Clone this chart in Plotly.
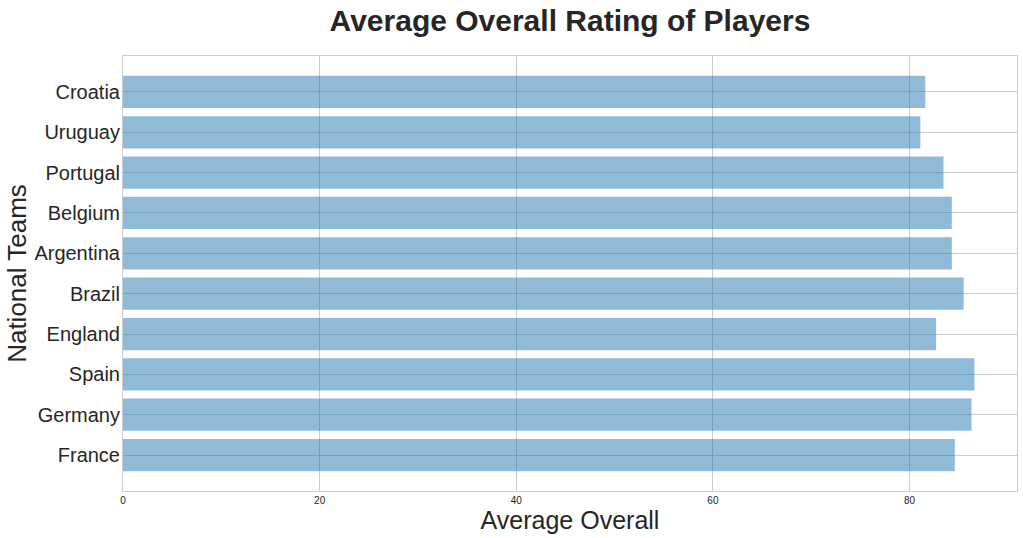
import plotly.graph_objects as go

teams = ["France", "Germany", "Spain", "England", "Brazil", "Argentina", "Belgium", "Portugal", "Uruguay", "Croatia"]
avg_overall = [84.6, 86.3, 86.6, 82.7, 85.5, 84.3, 84.3, 83.45, 81.1, 81.6]
x_ticks = [0, 20, 40, 60, 80]

fig = go.Figure(go.Bar(
    x=avg_overall, y=list(range(len(teams))), orientation="h",
    width=0.8, marker=dict(color="rgba(31,119,180,0.5)", line=dict(width=0)),
))

font_family = "Liberation Sans, Arial, sans-serif"
fig.update_layout(
    width=1023, height=538,
    margin=dict(l=123, r=6, t=56, b=47, autoexpand=False),
    plot_bgcolor="white", paper_bgcolor="white",
    font=dict(family=font_family, color="#262626"),
    title=dict(text="<b>Average Overall Rating of Players</b>", x=0.5, xref="paper", xanchor="center",
               y=0.962, yanchor="middle", font=dict(size=30, color="#262626")),
    showlegend=False,
    bargap=0.2,
)
fig.update_xaxes(
    range=[0, 90.93], tickvals=x_ticks, ticktext=[str(t) for t in x_ticks],
    tickfont=dict(size=10), showgrid=True, gridcolor="#cccccc", gridwidth=1,
    showline=True, linecolor="#cccccc", linewidth=1, mirror=True, zeroline=False,
    title=dict(text="Average Overall", font=dict(size=25), standoff=2), ticks="",
    automargin=False,
)
fig.update_yaxes(
    range=[-0.89, 9.89], tickvals=list(range(len(teams))), ticktext=teams,
    tickfont=dict(size=20), showgrid=True, gridcolor="#cccccc", gridwidth=1,
    showline=True, linecolor="#cccccc", linewidth=1, mirror=True, zeroline=False,
    title=dict(text="National Teams", font=dict(size=26), standoff=0), ticks="",
    ticklabelstandoff=-2, automargin=False,
)
fig.write_html("out.html", config={"displayModeBar": False},
               post_script="document.body.style.margin='0';document.body.style.overflow='hidden';")
